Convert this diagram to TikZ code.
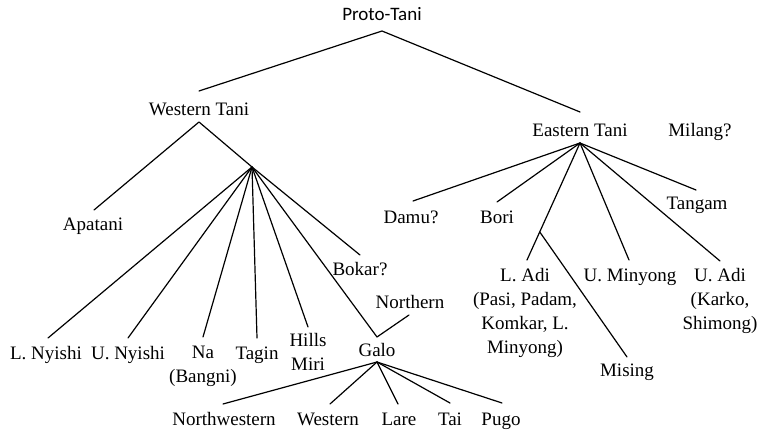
\documentclass[tikz,border=0pt]{standalone}
\usepackage{fontspec}
\setmainfont{Liberation Serif}
\newfontfamily\calfont{Carlito}
\begin{document}
\begin{tikzpicture}[x=1pt,y=-1pt,
  lbl/.style={inner sep=0pt, font=\fontsize{19}{23.5}\selectfont, anchor=base},
  blk/.style={inner sep=0pt, font=\fontsize{19}{24}\selectfont, align=center, anchor=north},
  edge/.style={line width=1.2pt, line cap=round, line join=round}]
\useasboundingbox (0,0) rectangle (762,430);

% ---- labels ----
\node[lbl, font=\calfont\fontsize{19}{23.5}\selectfont] (proto) at (382,21) {Proto-Tani};
\node[lbl] (wt) at (199,116) {Western Tani};
\node[lbl] (et) at (580,137) {Eastern Tani};
\node[lbl] (milang) at (700,137) {Milang?};
\node[lbl] (apatani) at (93,230) {Apatani};
\node[lbl] (bokar) at (360,275) {Bokar?};
\node[lbl] (northern) at (410,308) {Northern};
\node[lbl] (lny) at (46,359) {L. Nyishi};
\node[lbl] (uny) at (128,359) {U. Nyishi};
\node[blk] (na) at (203,346) {Na\\(Bangni)};
\node[lbl] (tagin) at (257,359) {Tagin};
\node[blk] (hills) at (308,333) {Hills\\Miri};
\node[lbl] (galo) at (377,356) {Galo};
\node[lbl] (nw) at (224,425) {Northwestern};
\node[lbl] (western) at (328,425) {Western};
\node[lbl] (lare) at (399,425) {Lare};
\node[lbl] (tai) at (450,425) {Tai};
\node[lbl] (pugo) at (501,425) {Pugo};
\node[lbl] (damu) at (411,223) {Damu?};
\node[lbl] (bori) at (497,223) {Bori};
\node[lbl] (tangam) at (697,210) {Tangam};
\node[blk] (ladi) at (525,268) {L. Adi\\(Pasi, Padam,\\Komkar, L.\\Minyong)};
\node[lbl] (umin) at (630,281) {U. Minyong};
\node[blk] (uadi) at (720,268) {U. Adi\\(Karko,\\Shimong)};
\node[lbl] (mising) at (627,376) {Mising};

% ---- connector end points ----
\coordinate (pt-bot) at (382,31);
\coordinate (wt-top) at (199,91);
\coordinate (wt-bot) at (199,122);
\coordinate (et-top) at (580,112);
\coordinate (et-bot) at (580,143);
\coordinate (ap-top) at (94,210);
\coordinate (hub) at (252,167);
\coordinate (lny-top) at (48,338);
\coordinate (uny-top) at (128,338);
\coordinate (na-top) at (203,337);
\coordinate (tag-top) at (257,338);
\coordinate (hm-top) at (308,327);
\coordinate (galo-top) at (377,337);
\coordinate (bok-top) at (360,255);
\coordinate (nor-bot) at (409,315);
\coordinate (galo-bot) at (377,362);
\coordinate (nw-top) at (223,404);
\coordinate (w-top) at (330,404);
\coordinate (lare-top) at (398,404);
\coordinate (tai-top) at (450,403);
\coordinate (pugo-top) at (502,403);
\coordinate (damu-top) at (413,201);
\coordinate (bori-top) at (497,202);
\coordinate (ladi-top) at (527,260);
\coordinate (umin-top) at (629,260);
\coordinate (uadi-top) at (720,261);
\coordinate (tan-top) at (696,190);
\coordinate (mis-top) at (627,357);

% ---- connectors ----
\draw[edge] (wt-top) -- (pt-bot) -- (et-top);
\draw[edge] (ap-top) -- (wt-bot) -- (hub);
\foreach \t in {lny-top,uny-top,na-top,tag-top,hm-top,galo-top,bok-top}
  \draw[edge] (hub) -- (\t);
\draw[edge] (nor-bot) -- (galo-top);
\foreach \t in {nw-top,w-top,lare-top,tai-top,pugo-top}
  \draw[edge] (galo-bot) -- (\t);
\foreach \t in {damu-top,bori-top,umin-top,uadi-top,tan-top}
  \draw[edge] (et-bot) -- (\t);
\draw[edge] (et-bot) -- coordinate[pos=0.76] (mis-split) (ladi-top);
\draw[edge] (mis-split) -- (mis-top);
\end{tikzpicture}
\end{document}
